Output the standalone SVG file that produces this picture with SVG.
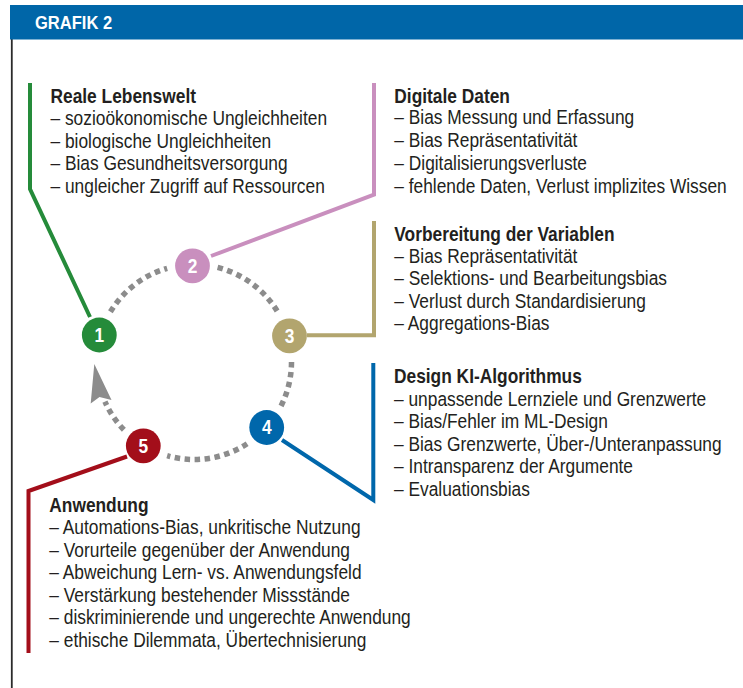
<svg xmlns="http://www.w3.org/2000/svg" width="743" height="688" viewBox="0 0 743 688">
  <style>
    .t { font-family: "Liberation Sans", Arial, sans-serif; font-size: 19.5px; fill: #231f20; }
    .h { font-weight: 700; }
    .num { font-family: "Liberation Sans", Arial, sans-serif; font-size: 19.5px; font-weight: 700; fill: #ffffff; text-anchor: middle; }
    .conn { fill: none; stroke-width: 4; stroke-linejoin: miter; stroke-linecap: butt; }
    .cycle { fill: none; stroke: #8c8c8c; stroke-width: 5.5; stroke-dasharray: 5.5 4.5; }
  </style>

  <!-- frame and title bar -->
  <rect x="0" y="0" width="743" height="688" fill="#ffffff"/>
  <line x1="11.8" y1="39" x2="11.8" y2="688" stroke="#2b2b2b" stroke-width="1.8"/>
  <rect x="10" y="5" width="733" height="34.5" fill="#0066a8"/>
  <g transform="translate(35,0) scale(0.87,1)">
    <text x="0" y="29" font-family="Liberation Sans, Arial, sans-serif" font-size="19" font-weight="700" fill="#ffffff">GRAFIK 2</text>
  </g>

  <!-- connectors: cycle arcs and leader lines -->
  <g id="connectors">
    <path class="cycle" d="M110.42,311.79 A97.5,97.5 0 0 1 167.13,268.28"/>
    <path class="cycle" d="M217.59,267.40 A97.5,97.5 0 0 1 278.44,313.25"/>
    <path class="cycle" d="M291.5,362 A97.5,97.5 0 0 1 280.87,406.27"/>
    <path class="cycle" d="M247.10,443.77 A97.5,97.5 0 0 1 167.13,455.72"/>
    <path class="cycle" d="M123.87,429.73 A97.5,97.5 0 0 1 104.93,401.66"/>
    <polygon points="94.3,364 111.5,400 99.5,397 90.7,403.5" fill="#8c8c8c"/>

    <polyline class="conn" stroke="#258b3a" points="90,317 30,189 30,83"/>
    <polyline class="conn" stroke="#c98fbe" points="211,256 374,194.5 374,83"/>
    <polyline class="conn" stroke="#b2a56e" points="307,335.3 374,335.3 374,221"/>
    <polyline class="conn" stroke="#0067ab" points="282,440 373.3,500 373.3,363"/>
    <polyline class="conn" stroke="#a30e1a" points="127,456.5 28.5,491 28.5,653"/>
  </g>

  <!-- step 1 -->
  <g id="node1">
    <circle cx="99.3" cy="335" r="17.4" fill="#258b3a"/>
    <g transform="translate(99.3,0) scale(0.89,1)"><text class="num" x="0" y="342">1</text></g>
    <g transform="translate(50.5,0) scale(0.89,1)">
      <text class="t h" x="0" y="103">Reale Lebenswelt</text>
      <text class="t" x="0" y="125.5">– sozioökonomische Ungleichheiten</text>
      <text class="t" x="0" y="148">– biologische Ungleichheiten</text>
      <text class="t" x="0" y="170.5">– Bias Gesundheitsversorgung</text>
      <text class="t" x="0" y="193">– ungleicher Zugriff auf Ressourcen</text>
    </g>
  </g>

  <!-- step 2 -->
  <g id="node2">
    <circle cx="192.5" cy="265.8" r="17.4" fill="#c98fbe"/>
    <g transform="translate(192.5,0) scale(0.89,1)"><text class="num" x="0" y="272.8">2</text></g>
    <g transform="translate(394.3,0) scale(0.89,1)">
      <text class="t h" x="0" y="102.7">Digitale Daten</text>
      <text class="t" x="0" y="124.5">– Bias Messung und Erfassung</text>
      <text class="t" x="0" y="147.2">– Bias Repräsentativität</text>
      <text class="t" x="0" y="170">– Digitalisierungsverluste</text>
      <text class="t" x="0" y="192.7">– fehlende Daten, Verlust implizites Wissen</text>
    </g>
  </g>

  <!-- step 3 -->
  <g id="node3">
    <circle cx="289.5" cy="335.8" r="17.4" fill="#b2a56e"/>
    <g transform="translate(289.5,0) scale(0.89,1)"><text class="num" x="0" y="342.8">3</text></g>
    <g transform="translate(394.3,0) scale(0.89,1)">
      <text class="t h" x="0" y="241">Vorbereitung der Variablen</text>
      <text class="t" x="0" y="263">– Bias Repräsentativität</text>
      <text class="t" x="0" y="285.5">– Selektions- und Bearbeitungsbias</text>
      <text class="t" x="0" y="308">– Verlust durch Standardisierung</text>
      <text class="t" x="0" y="330.5">– Aggregations-Bias</text>
    </g>
  </g>

  <!-- step 4 -->
  <g id="node4">
    <circle cx="266.7" cy="427.5" r="17.4" fill="#0067ab"/>
    <g transform="translate(266.7,0) scale(0.89,1)"><text class="num" x="0" y="434.5">4</text></g>
    <g transform="translate(394,0) scale(0.89,1)">
      <text class="t h" x="0" y="383.3">Design KI-Algorithmus</text>
      <text class="t" x="0" y="406">– unpassende Lernziele und Grenzwerte</text>
      <text class="t" x="0" y="428.5">– Bias/Fehler im ML-Design</text>
      <text class="t" x="0" y="451">– Bias Grenzwerte, Über-/Unteranpassung</text>
      <text class="t" x="0" y="473.5">– Intransparenz der Argumente</text>
      <text class="t" x="0" y="496">– Evaluationsbias</text>
    </g>
  </g>

  <!-- step 5 -->
  <g id="node5">
    <circle cx="143.3" cy="445.8" r="17.4" fill="#a30e1a"/>
    <g transform="translate(143.3,0) scale(0.89,1)"><text class="num" x="0" y="452.8">5</text></g>
    <g transform="translate(49.3,0) scale(0.89,1)">
      <text class="t h" x="0" y="511.7">Anwendung</text>
      <text class="t" x="0" y="534">– Automations-Bias, unkritische Nutzung</text>
      <text class="t" x="0" y="556.7">– Vorurteile gegenüber der Anwendung</text>
      <text class="t" x="0" y="579">– Abweichung Lern- vs. Anwendungsfeld</text>
      <text class="t" x="0" y="601.7">– Verstärkung bestehender Missstände</text>
      <text class="t" x="0" y="624">– diskriminierende und ungerechte Anwendung</text>
      <text class="t" x="0" y="646.7">– ethische Dilemmata, Übertechnisierung</text>
    </g>
  </g>
</svg>
